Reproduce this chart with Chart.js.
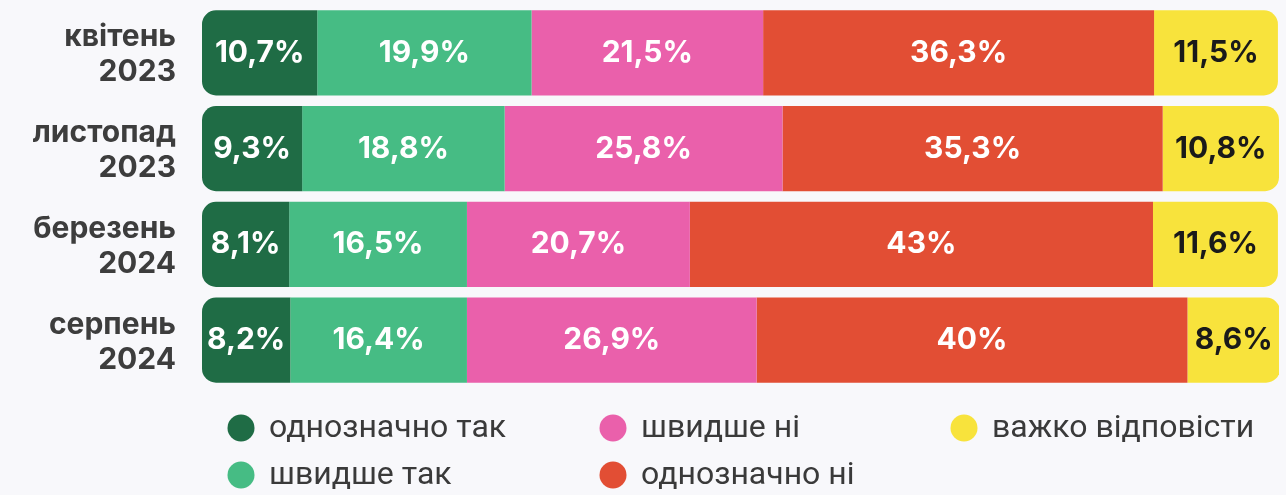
<!DOCTYPE html>
<html>
<head>
<meta charset="utf-8">
<script src="https://cdn.jsdelivr.net/npm/chart.js@4.4.1/dist/chart.umd.min.js"></script>
<style>
  html, body { margin: 0; padding: 0; background: #f8f8fb; }
  canvas { display: block; }
</style>
</head>
<body>
<canvas id="c" width="1286" height="495"></canvas>
<script>
// ---- data ----
const categories = [['квітень', '2023'], ['листопад', '2023'], ['березень', '2024'], ['серпень', '2024']];
const seriesNames = ['однозначно так', 'швидше так', 'швидше ні', 'однозначно ні', 'важко відповісти'];
const definitelyYes = [10.7, 9.3, 8.1, 8.2];
const ratherYes = [19.9, 18.8, 16.5, 16.4];
const ratherNo = [21.5, 25.8, 20.7, 26.9];
const definitelyNo = [36.3, 35.3, 43, 40];
const hardToSay = [11.5, 10.8, 11.6, 8.6];
const seriesValues = [definitelyYes, ratherYes, ratherNo, definitelyNo, hardToSay];
const seriesColors = ['#1f6c45', '#46bc84', '#ea60ab', '#e24e34', '#f8e33c'];
const labelColors = ['#ffffff', '#ffffff', '#ffffff', '#ffffff', '#1a1a1a'];

const R = 14;
const datasets = seriesValues.map((vals, i) => {
  let br;
  if (i === 0) br = { topLeft: R, bottomLeft: R, topRight: 0, bottomRight: 0 };
  else if (i === seriesValues.length - 1) br = { topLeft: 0, bottomLeft: 0, topRight: R, bottomRight: R };
  else br = { topLeft: 0, bottomLeft: 0, topRight: 0, bottomRight: 0 };
  return {
    label: seriesNames[i],
    data: vals,
    backgroundColor: seriesColors[i],
    borderWidth: 0,
    borderSkipped: false,
    borderRadius: br,
    categoryPercentage: 1,
    barPercentage: 0.888
  };
});

const valueLabels = {
  id: 'valueLabels',
  afterDatasetsDraw(chart) {
    const ctx = chart.ctx;
    ctx.save();
    ctx.font = 'bold 30px Inter';
    ctx.textAlign = 'center';
    ctx.textBaseline = 'middle';
    chart.data.datasets.forEach((ds, di) => {
      const meta = chart.getDatasetMeta(di);
      meta.data.forEach((el, i) => {
        const p = el.getCenterPoint();
        const txt = String(ds.data[i]).replace('.', ',') + '%';
        ctx.fillStyle = labelColors[di];
        ctx.fillText(txt, p.x, p.y);
      });
    });
    ctx.restore();
  }
};

const customLegend = {
  id: 'customLegend',
  afterDraw(chart) {
    const ctx = chart.ctx;
    const colX = [241, 613, 964];
    const rowY = [428, 475];
    ctx.save();
    ctx.font = '32px Roboto';
    ctx.textAlign = 'left';
    ctx.textBaseline = 'middle';
    chart.data.datasets.forEach((ds, i) => {
      const cx = colX[Math.floor(i / 2)];
      const cy = rowY[i % 2];
      ctx.beginPath();
      ctx.arc(cx, cy, 13.5, 0, Math.PI * 2);
      ctx.fillStyle = ds.backgroundColor;
      ctx.fill();
      ctx.fillStyle = '#3a3a3a';
      ctx.fillText(ds.label, cx + 28, cy + 1);
    });
    ctx.restore();
  }
};

new Chart(document.getElementById('c'), {
  type: 'bar',
  data: { labels: categories, datasets },
  options: {
    indexAxis: 'y',
    responsive: false,
    animation: false,
    layout: { padding: { left: 0, right: 7, top: 5, bottom: 107 } },
    plugins: { legend: { display: false }, tooltip: { enabled: false } },
    scales: {
      x: { stacked: true, min: 0, max: 100, display: false },
      y: {
        stacked: true,
        grid: { display: false, drawTicks: false },
        border: { display: false },
        afterFit(scale) { scale.width = 202; scale.paddingTop = 0; scale.paddingBottom = 0; },
        ticks: {
          padding: 26,
          labelOffset: 2,
          color: '#3d3d3d',
          font: { family: 'Inter', size: 30, weight: 'bold', lineHeight: 1.17 }
        }
      }
    }
  },
  plugins: [valueLabels, customLegend]
});
</script>
</body>
</html>
